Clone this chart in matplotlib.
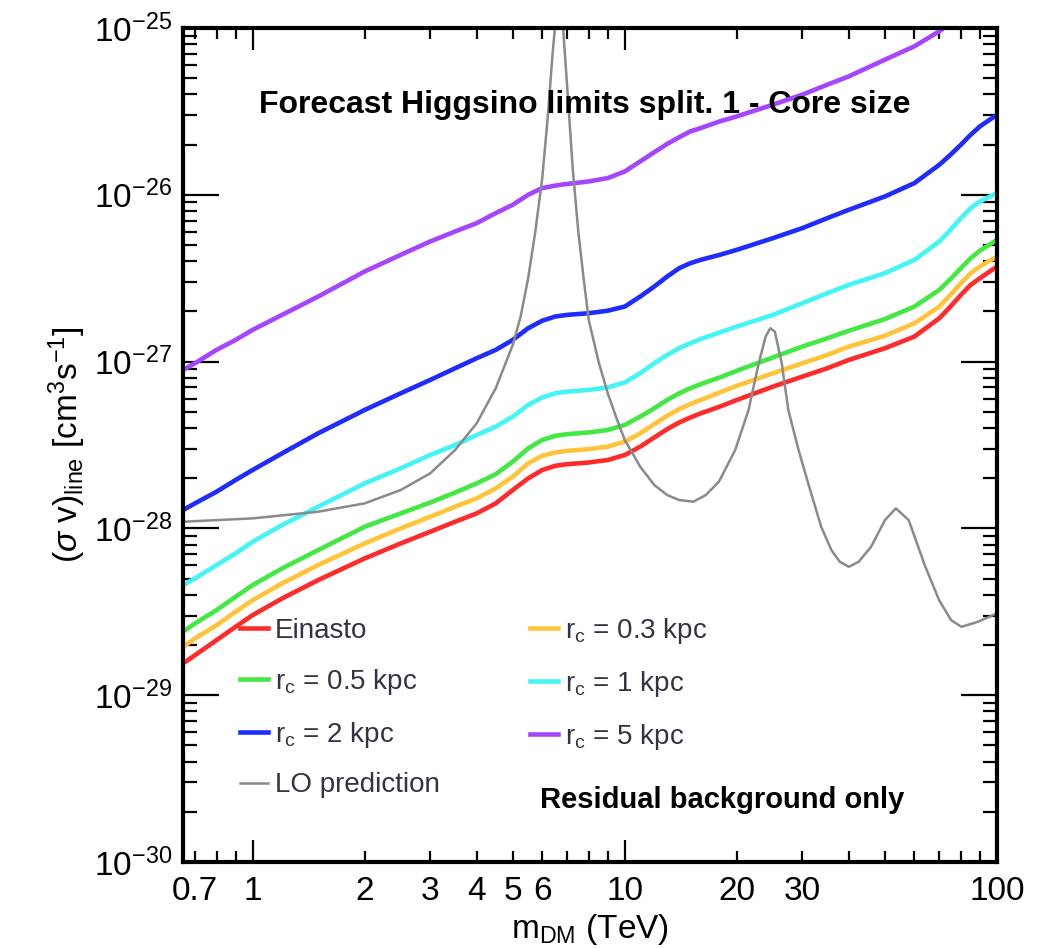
import numpy as np
import matplotlib
matplotlib.use("Agg")
import matplotlib.pyplot as plt

plt.rcParams["font.family"] = ["Liberation Sans", "DejaVu Sans"]
plt.rcParams["mathtext.fontset"] = "custom"
plt.rcParams["mathtext.rm"] = "Liberation Sans"
plt.rcParams["mathtext.it"] = "Liberation Sans:italic"
plt.rcParams["mathtext.bf"] = "Liberation Sans:bold"

# DM mass grid (TeV) for the forecast limits
m_dm = [0.65, 0.7, 0.8, 0.9, 1, 1.2, 1.5, 2, 2.5, 3, 3.5, 4, 4.5, 5, 5.5, 6, 6.5, 7, 8, 9, 10, 11, 12, 13,
        14, 15, 16, 18, 20, 25, 30, 35, 40, 50, 60, 70, 75, 80, 85, 90, 100]

# log10 of <sigma v>_line (cm^3 s^-1)
log_einasto = [-28.81, -28.76, -28.67, -28.59, -28.52, -28.42, -28.31, -28.18, -28.09, -28.02, -27.96, -27.91,
               -27.85, -27.77, -27.70, -27.65, -27.625, -27.615, -27.605, -27.59, -27.56, -27.51, -27.455,
               -27.405, -27.365, -27.335, -27.31, -27.27, -27.23, -27.15, -27.09, -27.04, -26.99, -26.92,
               -26.85, -26.74, -26.67, -26.60, -26.54, -26.50, -26.43]
log_rc03 = [-28.71, -28.66, -28.58, -28.50, -28.43, -28.33, -28.22, -28.09, -28.00, -27.93, -27.87, -27.82,
            -27.76, -27.69, -27.61, -27.565, -27.545, -27.535, -27.525, -27.51, -27.48, -27.43, -27.375,
            -27.325, -27.285, -27.255, -27.23, -27.185, -27.145, -27.07, -27.01, -26.96, -26.91, -26.845,
            -26.77, -26.67, -26.60, -26.53, -26.47, -26.43, -26.37]
log_rc05 = [-28.62, -28.57, -28.49, -28.41, -28.34, -28.24, -28.13, -27.99, -27.91, -27.845, -27.785, -27.73,
            -27.675, -27.60, -27.52, -27.47, -27.445, -27.435, -27.425, -27.41, -27.38, -27.33, -27.28,
            -27.23, -27.19, -27.16, -27.135, -27.095, -27.055, -26.975, -26.91, -26.86, -26.815, -26.745,
            -26.67, -26.57, -26.505, -26.44, -26.38, -26.335, -26.27]
log_rc1 = [-28.34, -28.30, -28.22, -28.15, -28.08, -27.98, -27.87, -27.73, -27.64, -27.56, -27.50, -27.44,
           -27.39, -27.33, -27.26, -27.215, -27.19, -27.18, -27.17, -27.155, -27.125, -27.07, -27.01, -26.96,
           -26.92, -26.89, -26.865, -26.825, -26.79, -26.72, -26.65, -26.59, -26.54, -26.47, -26.39, -26.28,
           -26.21, -26.14, -26.08, -26.04, -25.99]
log_rc2 = [-27.89, -27.85, -27.78, -27.71, -27.65, -27.55, -27.43, -27.29, -27.19, -27.11, -27.04, -26.98,
           -26.93, -26.87, -26.80, -26.755, -26.73, -26.72, -26.71, -26.695, -26.67, -26.61, -26.55, -26.49,
           -26.44, -26.41, -26.39, -26.36, -26.33, -26.26, -26.20, -26.14, -26.09, -26.01, -25.93, -25.82,
           -25.76, -25.70, -25.64, -25.59, -25.52]
log_rc5 = [-27.05, -27.01, -26.93, -26.87, -26.81, -26.72, -26.61, -26.46, -26.36, -26.28, -26.22, -26.17,
           -26.11, -26.06, -26.00, -25.96, -25.945, -25.935, -25.92, -25.90, -25.86, -25.80, -25.745, -25.695,
           -25.655, -25.62, -25.60, -25.56, -25.53, -25.46, -25.40, -25.34, -25.29, -25.19, -25.11, -25.02,
           -24.97, -24.92, -24.88, -24.85, -24.80]

# LO Higgsino prediction (Sommerfeld resonances)
m_lo = [0.65, 1.0, 1.5, 2.0, 2.5, 3.0, 3.5, 4.0, 4.5, 5.0, 5.25, 5.5, 5.75, 6.0, 6.2, 6.4, 6.55, 6.65, 6.8, 7.0,
        7.25, 7.5, 7.75, 8.0, 8.5, 9.0, 9.5, 10, 11, 12, 13, 14, 15.3, 16.5, 17.9, 19.8, 21.5, 22.9, 23.9,
        24.6, 25.3, 26.4, 27.5, 29.3, 31.1, 33.7, 35.9, 37.8, 40.0, 42.5, 45.9, 50.0, 53.5, 57.9, 64.2, 69.9,
        75.3, 80.3, 88.8, 100]
log_lo = [-27.96, -27.94, -27.90, -27.85, -27.77, -27.67, -27.53, -27.37, -27.16, -26.90, -26.73, -26.50,
          -26.22, -25.90, -25.55, -25.15, -24.90, -24.82, -24.95, -25.35, -25.85, -26.22, -26.50, -26.75,
          -27.00, -27.19, -27.34, -27.47, -27.63, -27.74, -27.80, -27.83, -27.84, -27.80, -27.72, -27.53,
          -27.29, -27.01, -26.85, -26.80, -26.82, -27.01, -27.29, -27.53, -27.73, -27.99, -28.13, -28.20,
          -28.23, -28.20, -28.11, -27.95, -27.88, -27.95, -28.23, -28.43, -28.55, -28.59, -28.56, -28.51]

curves = [
    (log_einasto, "#ff2b2b", "Einasto"),
    (log_rc05, "#44e844", r"$\mathrm{r_c}$ = 0.5 kpc"),
    (log_rc2, "#1f2bff", r"$\mathrm{r_c}$ = 2 kpc"),
    (log_rc03, "#ffc43a", r"$\mathrm{r_c}$ = 0.3 kpc"),
    (log_rc1, "#45f5f5", r"$\mathrm{r_c}$ = 1 kpc"),
    (log_rc5, "#a545ff", r"$\mathrm{r_c}$ = 5 kpc"),
]

xtick_major = [1, 10, 100]
xtick_minor = [0.7, 0.8, 0.9, 2, 3, 4, 5, 6, 7, 8, 9, 20, 30, 40, 50, 60, 70, 80, 90]
xtick_minor_labels = ["0.7", "", "", "2", "3", "4", "5", "6", "", "", "", "20", "30", "", "", "", "", "", ""]
y_decades = [-30, -29, -28, -27, -26, -25]

fig = plt.figure(figsize=(10.42, 9.48), dpi=100)
ax = fig.add_axes([0.1756, 0.0907, 0.9568 - 0.1756, 0.9705 - 0.0907])

x = np.array(m_dm)
handles = {}
for vals, col, lab in curves:
    (h,) = ax.plot(x, 10.0 ** np.array(vals), color=col, lw=3.3, label=lab, solid_joinstyle="round")
    handles[lab] = h
(h_lo,) = ax.plot(m_lo, 10.0 ** np.array(log_lo), color="#8a8a8a", lw=1.8, label="LO prediction",
                  solid_joinstyle="round")

ax.set_xscale("log")
ax.set_yscale("log")
ax.set_xlim(0.65, 100)
ax.set_ylim(1e-30, 1e-25)

ax.set_xticks(xtick_major, labels=[str(v) for v in xtick_major])
ax.set_xticks(xtick_minor, labels=xtick_minor_labels, minor=True)
ax.set_yticks([10.0 ** d for d in y_decades], labels=[rf"$10^{{{d}}}$" for d in y_decades])
ax.set_yticks([k * 10.0 ** d for d in y_decades[:-1] for k in range(2, 10)], minor=True)
ax.yaxis.set_minor_formatter(matplotlib.ticker.NullFormatter())

ax.tick_params(which="both", direction="in", top=True, right=True, labelsize=24, width=1.6, colors="black")
ax.tick_params(axis="x", which="major", length=16, pad=10)
ax.tick_params(axis="x", which="minor", length=8, pad=10)
ax.tick_params(axis="y", which="major", length=26, pad=8)
ax.tick_params(axis="y", which="minor", length=10)
for sp in ax.spines.values():
    sp.set_linewidth(3)

ax.set_xlabel(r"$\mathrm{m_{DM}}$ (TeV)", fontsize=24, labelpad=4)
ax.set_ylabel(r"$(\sigma\ \mathrm{v})_{\mathrm{line}}$ [cm$^3$s$^{-1}$]", fontsize=24, labelpad=4)

ax.text(0.494, 0.908, "Forecast Higgsino limits split. 1 - Core size", transform=ax.transAxes,
        ha="center", va="center", fontsize=23, fontweight="bold")
ax.text(0.662, 0.074, "Residual background only", transform=ax.transAxes,
        ha="center", va="center", fontsize=21, fontweight="bold")

order = ["Einasto", r"$\mathrm{r_c}$ = 0.5 kpc", r"$\mathrm{r_c}$ = 2 kpc"]
leg_handles = [handles[k] for k in order] + [h_lo] + [handles[k] for k in
               [r"$\mathrm{r_c}$ = 0.3 kpc", r"$\mathrm{r_c}$ = 1 kpc", r"$\mathrm{r_c}$ = 5 kpc"]]
leg = ax.legend(handles=leg_handles, ncol=2, loc="upper left", bbox_to_anchor=(0.07, 0.295), frameon=False,
                fontsize=20, handlelength=1.0, handletextpad=0.25, labelspacing=0.82, columnspacing=3.25,
                borderaxespad=0, borderpad=0)
for t in leg.get_texts():
    t.set_color("#333344")

fig.savefig("out.png", dpi=100, facecolor="white")
